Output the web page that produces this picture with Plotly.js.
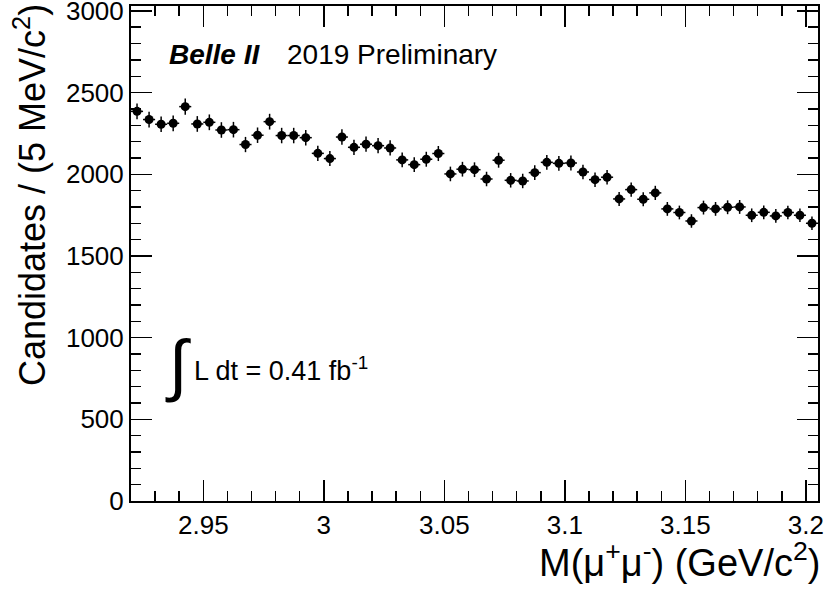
<!DOCTYPE html>
<html><head><meta charset="utf-8">
<script src="https://cdn.plot.ly/plotly-3.0.1.min.js"></script>
<style>html,body{margin:0;padding:0;background:#fff}</style>
</head><body><div id="chart" style="width:831px;height:592px"></div>
<script>
// bin centres, M(mu+ mu-) in GeV/c^2 (5 MeV bins)
const binCenters = [2.9225, 2.9275, 2.9325, 2.9375, 2.9425, 2.9475, 2.9525, 2.9575, 2.9625, 2.9675,
  2.9725, 2.9775, 2.9825, 2.9875, 2.9925, 2.9975, 3.0025, 3.0075, 3.0125, 3.0175,
  3.0225, 3.0275, 3.0325, 3.0375, 3.0425, 3.0475, 3.0525, 3.0575, 3.0625, 3.0675,
  3.0725, 3.0775, 3.0825, 3.0875, 3.0925, 3.0975, 3.1025, 3.1075, 3.1125, 3.1175,
  3.1225, 3.1275, 3.1325, 3.1375, 3.1425, 3.1475, 3.1525, 3.1575, 3.1625, 3.1675,
  3.1725, 3.1775, 3.1825, 3.1875, 3.1925, 3.1975, 3.2025];
// candidates per bin
const counts = [2385, 2335, 2306, 2312, 2414, 2308, 2318, 2271, 2273, 2182,
  2239, 2322, 2237, 2237, 2224, 2128, 2096, 2228, 2165, 2184,
  2175, 2161, 2088, 2059, 2092, 2127, 2002, 2031, 2028, 1971,
  2086, 1963, 1959, 2010, 2073, 2067, 2069, 2014, 1967, 1982,
  1849, 1906, 1847, 1886, 1788, 1766, 1714, 1796, 1788, 1798,
  1800, 1749, 1767, 1745, 1766, 1749, 1700];
const halfBin = 0.0025;

const FONT = 'Liberation Sans, Arial, Helvetica, sans-serif';

const trace = {
  x: binCenters, y: counts, type: 'scatter', mode: 'markers',
  marker: {color: '#000', size: 9},
  error_y: {type: 'sqrt', color: '#000', thickness: 1.5, width: 0},
  error_x: {type: 'constant', value: halfBin, color: '#000', thickness: 1.5, width: 0},
  hoverinfo: 'skip'
};

const axisCommon = {
  showline: true, linecolor: '#000', linewidth: 2, mirror: 'allticks',
  ticks: 'inside', ticklen: 21, tickwidth: 1.5, tickcolor: '#000',
  showgrid: false, zeroline: false, automargin: false,
  ticklabeloverflow: 'allow',
  tickfont: {family: FONT, size: 26, color: '#000'}
};

const layout = {
  width: 831, height: 592,
  margin: {l: 131, r: 13, t: 6, b: 91},
  paper_bgcolor: '#fff', plot_bgcolor: '#fff',
  showlegend: false,
  font: {family: FONT, color: '#000'},
  xaxis: Object.assign({}, axisCommon, {
    range: [2.92, 3.205], tickmode: 'linear', tick0: 3, dtick: 0.05,
    minor: {ticks: 'inside', ticklen: 10, tickwidth: 1.5, tickcolor: '#000', tickmode: 'linear', tick0: 2.92, dtick: 0.01, showgrid: false}
  }),
  yaxis: Object.assign({}, axisCommon, {
    range: [0, 3030], tickmode: 'linear', tick0: 0, dtick: 500,
    minor: {ticks: 'inside', ticklen: 10, tickwidth: 1.5, tickcolor: '#000', tickmode: 'linear', tick0: 0, dtick: 100, showgrid: false}
  }),
  annotations: [
    {xref: 'paper', yref: 'paper', x: 0.0528, y: 0.9024, xanchor: 'left', yanchor: 'middle',
     text: '<b><i>Belle II</i></b>', showarrow: false, font: {family: FONT, size: 28, color: '#000'}},
    {xref: 'paper', yref: 'paper', x: 0.2244, y: 0.9024, xanchor: 'left', yanchor: 'middle',
     text: '2019 Preliminary', showarrow: false, font: {family: FONT, size: 28, color: '#000'}},
    {xref: 'paper', yref: 'paper', x: 0.0470, y: 0.2760, xanchor: 'left', yanchor: 'middle',
     text: '∫', showarrow: false, font: {family: FONT, size: 68, color: '#000'}},
    {xref: 'paper', yref: 'paper', x: 0.0892, y: 0.2660, xanchor: 'left', yanchor: 'middle',
     text: 'L dt = 0.41 fb<sup>-1</sup>', showarrow: false, font: {family: FONT, size: 27, color: '#000'}},
    {xref: 'paper', yref: 'paper', x: -0.1470, y: 1.0080, xanchor: 'center', yanchor: 'top', textangle: -90,
     text: 'Candidates / (5 MeV/c<sup>2</sup>)', showarrow: false, font: {family: FONT, size: 36, color: '#000'}},
    {xref: 'paper', yref: 'paper', x: 1.0054, y: -0.1200, xanchor: 'right', yanchor: 'middle',
     text: 'M(μ<sup>+</sup>μ<sup>-</sup>) (GeV/c<sup>2</sup>)', showarrow: false, font: {family: FONT, size: 38, color: '#000'}}
  ]
};

Plotly.newPlot('chart', [trace], layout, {staticPlot: true, displayModeBar: false});
</script>
</body></html>
